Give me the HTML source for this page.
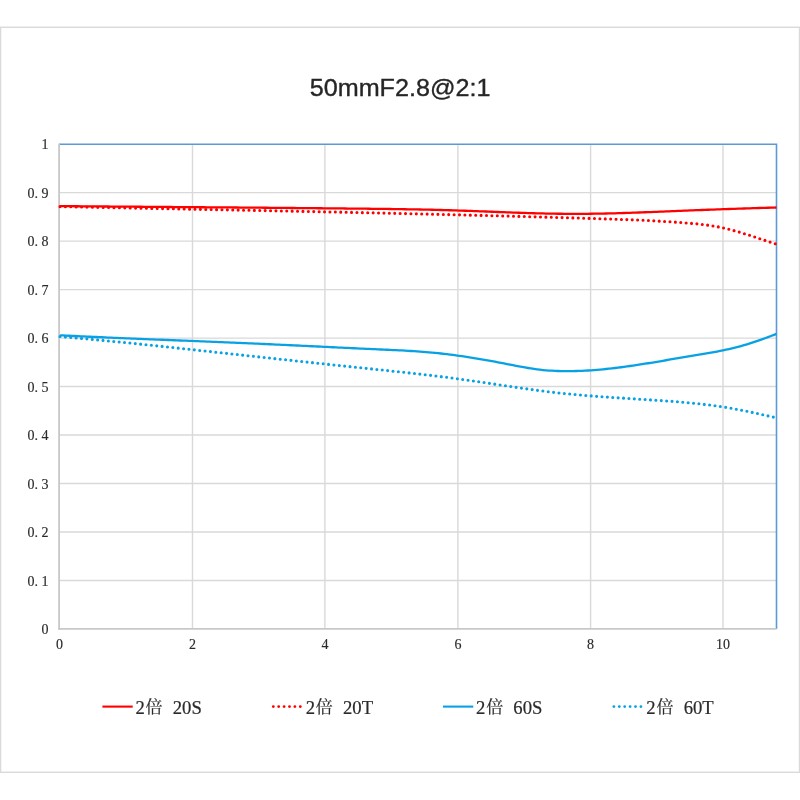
<!DOCTYPE html>
<html><head><meta charset="utf-8"><title>50mmF2.8@2:1</title>
<style>html,body{margin:0;padding:0;background:#fff;width:800px;height:800px;overflow:hidden}svg{display:block}</style>
</head><body>
<svg width="800" height="800" viewBox="0 0 800 800"><rect x="0.6" y="27.25" width="798.9" height="745.05" fill="none" stroke="#dadada" stroke-width="1.4"/>
<text x="309.70" y="96.3" textLength="180.80" lengthAdjust="spacingAndGlyphs" font-family="Liberation Sans, sans-serif" font-size="23.8" fill="#262626" stroke="#262626" stroke-width="0.35">50mmF2.8@2:1</text>
<line x1="59" y1="580.43" x2="776.5" y2="580.43" stroke="#d9d9d9" stroke-width="1.4"/>
<line x1="59" y1="531.96" x2="776.5" y2="531.96" stroke="#d9d9d9" stroke-width="1.4"/>
<line x1="59" y1="483.49" x2="776.5" y2="483.49" stroke="#d9d9d9" stroke-width="1.4"/>
<line x1="59" y1="435.02" x2="776.5" y2="435.02" stroke="#d9d9d9" stroke-width="1.4"/>
<line x1="59" y1="386.55" x2="776.5" y2="386.55" stroke="#d9d9d9" stroke-width="1.4"/>
<line x1="59" y1="338.08" x2="776.5" y2="338.08" stroke="#d9d9d9" stroke-width="1.4"/>
<line x1="59" y1="289.61" x2="776.5" y2="289.61" stroke="#d9d9d9" stroke-width="1.4"/>
<line x1="59" y1="241.14" x2="776.5" y2="241.14" stroke="#d9d9d9" stroke-width="1.4"/>
<line x1="59" y1="192.67" x2="776.5" y2="192.67" stroke="#d9d9d9" stroke-width="1.4"/>
<line x1="192.50" y1="144.20" x2="192.50" y2="628.90" stroke="#d9d9d9" stroke-width="1.4"/>
<line x1="324.90" y1="144.20" x2="324.90" y2="628.90" stroke="#d9d9d9" stroke-width="1.4"/>
<line x1="457.90" y1="144.20" x2="457.90" y2="628.90" stroke="#d9d9d9" stroke-width="1.4"/>
<line x1="590.60" y1="144.20" x2="590.60" y2="628.90" stroke="#d9d9d9" stroke-width="1.4"/>
<line x1="723.00" y1="144.20" x2="723.00" y2="628.90" stroke="#d9d9d9" stroke-width="1.4"/>
<polyline points="59,144.20 776.5,144.20 776.5,628.90" fill="none" stroke="#5b9bd5" stroke-width="1.6"/>
<line x1="59.1" y1="143.70" x2="59.1" y2="629.80" stroke="#c8c8c8" stroke-width="1.8"/>
<line x1="58.2" y1="628.90" x2="776.5" y2="628.90" stroke="#c8c8c8" stroke-width="1.8"/>
<path d="M60.00,206.10 L63.00,206.13 L66.00,206.16 L69.00,206.18 L72.00,206.21 L75.00,206.23 L78.00,206.26 L81.00,206.29 L84.00,206.31 L87.00,206.34 L90.00,206.36 L93.00,206.39 L96.00,206.41 L99.00,206.44 L102.00,206.46 L105.00,206.48 L108.00,206.51 L111.00,206.53 L114.00,206.56 L117.00,206.58 L120.00,206.61 L123.00,206.63 L126.00,206.65 L129.00,206.68 L132.00,206.70 L135.00,206.72 L138.00,206.75 L141.00,206.77 L144.00,206.79 L147.00,206.82 L150.00,206.84 L153.00,206.87 L156.00,206.89 L159.00,206.91 L162.00,206.93 L165.00,206.96 L168.00,206.98 L171.00,207.00 L174.00,207.03 L177.00,207.05 L180.00,207.07 L183.00,207.10 L186.00,207.12 L189.00,207.14 L192.00,207.17 L195.00,207.19 L198.00,207.21 L201.00,207.24 L204.00,207.26 L207.00,207.28 L210.00,207.31 L213.00,207.33 L216.00,207.36 L219.00,207.38 L222.00,207.40 L225.00,207.43 L228.00,207.45 L231.00,207.47 L234.00,207.50 L237.00,207.52 L240.00,207.55 L243.00,207.57 L246.00,207.60 L249.00,207.62 L252.00,207.65 L255.00,207.67 L258.00,207.70 L261.00,207.72 L264.00,207.75 L267.00,207.77 L270.00,207.80 L273.00,207.82 L276.00,207.85 L279.00,207.88 L282.00,207.90 L285.00,207.93 L288.00,207.96 L291.00,207.98 L294.00,208.01 L297.00,208.04 L300.00,208.06 L303.00,208.09 L306.00,208.12 L309.00,208.15 L312.00,208.18 L315.00,208.20 L318.00,208.23 L321.00,208.26 L324.00,208.29 L327.00,208.32 L330.00,208.35 L333.00,208.38 L336.00,208.41 L339.00,208.44 L342.00,208.47 L345.00,208.50 L348.00,208.53 L351.00,208.56 L354.00,208.59 L357.00,208.62 L360.00,208.65 L363.00,208.69 L366.00,208.72 L369.00,208.75 L372.00,208.79 L375.00,208.82 L378.00,208.86 L381.00,208.89 L384.00,208.93 L387.00,208.97 L390.00,209.01 L393.00,209.05 L396.00,209.09 L399.00,209.14 L402.00,209.19 L405.00,209.23 L408.00,209.28 L411.00,209.34 L414.00,209.39 L417.00,209.45 L420.00,209.51 L423.00,209.57 L426.00,209.63 L429.00,209.70 L432.00,209.77 L435.00,209.84 L438.00,209.91 L441.00,209.99 L444.00,210.07 L447.00,210.16 L450.00,210.25 L453.00,210.34 L456.00,210.43 L459.00,210.53 L462.00,210.63 L465.00,210.73 L468.00,210.84 L471.00,210.95 L474.00,211.06 L477.00,211.17 L480.00,211.29 L483.00,211.40 L486.00,211.52 L489.00,211.64 L492.00,211.75 L495.00,211.87 L498.00,211.99 L501.00,212.10 L504.00,212.21 L507.00,212.33 L510.00,212.44 L513.00,212.55 L516.00,212.65 L519.00,212.76 L522.00,212.86 L525.00,212.96 L528.00,213.05 L531.00,213.14 L534.00,213.23 L537.00,213.31 L540.00,213.39 L543.00,213.46 L546.00,213.53 L549.00,213.59 L552.00,213.64 L555.00,213.69 L558.00,213.74 L561.00,213.77 L564.00,213.80 L567.00,213.82 L570.00,213.84 L573.00,213.85 L576.00,213.85 L579.00,213.85 L582.00,213.83 L585.00,213.82 L588.00,213.79 L591.00,213.76 L594.00,213.72 L597.00,213.67 L600.00,213.62 L603.00,213.57 L606.00,213.50 L609.00,213.43 L612.00,213.36 L615.00,213.28 L618.00,213.19 L621.00,213.11 L624.00,213.01 L627.00,212.92 L630.00,212.82 L633.00,212.71 L636.00,212.61 L639.00,212.50 L642.00,212.39 L645.00,212.27 L648.00,212.16 L651.00,212.04 L654.00,211.92 L657.00,211.80 L660.00,211.68 L663.00,211.56 L666.00,211.44 L669.00,211.32 L672.00,211.19 L675.00,211.07 L678.00,210.95 L681.00,210.83 L684.00,210.70 L687.00,210.58 L690.00,210.46 L693.00,210.34 L696.00,210.22 L699.00,210.11 L702.00,209.99 L705.00,209.87 L708.00,209.76 L711.00,209.64 L714.00,209.53 L717.00,209.42 L720.00,209.31 L723.00,209.20 L726.00,209.09 L729.00,208.98 L732.00,208.88 L735.00,208.78 L738.00,208.67 L741.00,208.57 L744.00,208.48 L747.00,208.38 L750.00,208.28 L753.00,208.19 L756.00,208.10 L759.00,208.01 L762.00,207.92 L765.00,207.83 L768.00,207.75 L771.00,207.67 L774.00,207.59 L776.50,207.52" fill="none" stroke="#ff0000" stroke-width="2.3" stroke-linejoin="round"/>
<path d="M60.00,206.59 L63.00,206.65 L66.00,206.71 L69.00,206.77 L72.00,206.83 L75.00,206.89 L78.00,206.95 L81.00,207.01 L84.00,207.06 L87.00,207.12 L90.00,207.18 L93.00,207.24 L96.00,207.30 L99.00,207.36 L102.00,207.42 L105.00,207.48 L108.00,207.54 L111.00,207.60 L114.00,207.66 L117.00,207.71 L120.00,207.77 L123.00,207.83 L126.00,207.89 L129.00,207.95 L132.00,208.01 L135.00,208.07 L138.00,208.12 L141.00,208.18 L144.00,208.24 L147.00,208.30 L150.00,208.36 L153.00,208.42 L156.00,208.47 L159.00,208.53 L162.00,208.59 L165.00,208.65 L168.00,208.71 L171.00,208.77 L174.00,208.82 L177.00,208.88 L180.00,208.94 L183.00,209.00 L186.00,209.06 L189.00,209.12 L192.00,209.17 L195.00,209.23 L198.00,209.29 L201.00,209.35 L204.00,209.41 L207.00,209.47 L210.00,209.53 L213.00,209.58 L216.00,209.64 L219.00,209.70 L222.00,209.76 L225.00,209.82 L228.00,209.88 L231.00,209.94 L234.00,210.00 L237.00,210.06 L240.00,210.12 L243.00,210.17 L246.00,210.23 L249.00,210.29 L252.00,210.35 L255.00,210.41 L258.00,210.47 L261.00,210.53 L264.00,210.59 L267.00,210.65 L270.00,210.71 L273.00,210.77 L276.00,210.83 L279.00,210.89 L282.00,210.95 L285.00,211.02 L288.00,211.08 L291.00,211.14 L294.00,211.20 L297.00,211.26 L300.00,211.32 L303.00,211.38 L306.00,211.44 L309.00,211.51 L312.00,211.57 L315.00,211.63 L318.00,211.69 L321.00,211.76 L324.00,211.82 L327.00,211.88 L330.00,211.94 L333.00,212.01 L336.00,212.07 L339.00,212.13 L342.00,212.20 L345.00,212.26 L348.00,212.33 L351.00,212.39 L354.00,212.46 L357.00,212.52 L360.00,212.58 L363.00,212.65 L366.00,212.72 L369.00,212.78 L372.00,212.85 L375.00,212.91 L378.00,212.98 L381.00,213.05 L384.00,213.11 L387.00,213.18 L390.00,213.25 L393.00,213.31 L396.00,213.38 L399.00,213.45 L402.00,213.52 L405.00,213.59 L408.00,213.65 L411.00,213.72 L414.00,213.79 L417.00,213.86 L420.00,213.93 L423.00,214.00 L426.00,214.07 L429.00,214.14 L432.00,214.21 L435.00,214.28 L438.00,214.35 L441.00,214.43 L444.00,214.50 L447.00,214.57 L450.00,214.64 L453.00,214.71 L456.00,214.79 L459.00,214.86 L462.00,214.94 L465.00,215.01 L468.00,215.08 L471.00,215.16 L474.00,215.23 L477.00,215.31 L480.00,215.38 L483.00,215.46 L486.00,215.54 L489.00,215.61 L492.00,215.69 L495.00,215.77 L498.00,215.84 L501.00,215.92 L504.00,216.00 L507.00,216.08 L510.00,216.16 L513.00,216.24 L516.00,216.32 L519.00,216.40 L522.00,216.48 L525.00,216.56 L528.00,216.64 L531.00,216.72 L534.00,216.80 L537.00,216.89 L540.00,216.97 L543.00,217.05 L546.00,217.14 L549.00,217.22 L552.00,217.30 L555.00,217.39 L558.00,217.47 L561.00,217.56 L564.00,217.65 L567.00,217.73 L570.00,217.82 L573.00,217.91 L576.00,217.99 L579.00,218.08 L582.00,218.17 L585.00,218.26 L588.00,218.35 L591.00,218.44 L594.00,218.53 L597.00,218.62 L600.00,218.71 L603.00,218.81 L606.00,218.90 L609.00,219.00 L612.00,219.10 L615.00,219.20 L618.00,219.30 L621.00,219.41 L624.00,219.52 L627.00,219.63 L630.00,219.75 L633.00,219.87 L636.00,219.99 L639.00,220.12 L642.00,220.26 L645.00,220.40 L648.00,220.54 L651.00,220.69 L654.00,220.84 L657.00,221.01 L660.00,221.17 L663.00,221.35 L666.00,221.53 L669.00,221.71 L672.00,221.91 L675.00,222.11 L678.00,222.32 L681.00,222.54 L684.00,222.77 L687.00,223.00 L690.00,223.25 L693.00,223.51 L696.00,223.78 L699.00,224.09 L702.00,224.42 L705.00,224.78 L708.00,225.18 L711.00,225.62 L714.00,226.11 L717.00,226.64 L720.00,227.23 L723.00,227.87 L726.00,228.56 L729.00,229.30 L732.00,230.08 L735.00,230.90 L738.00,231.75 L741.00,232.63 L744.00,233.55 L747.00,234.49 L750.00,235.45 L753.00,236.42 L756.00,237.42 L759.00,238.41 L762.00,239.41 L765.00,240.41 L768.00,241.40 L771.00,242.38 L774.00,243.34 L776.50,244.12" fill="none" stroke="#ff0000" stroke-width="3.1" stroke-linecap="round" stroke-dasharray="0 5.4"/>
<path d="M60.00,335.28 L63.00,335.43 L66.00,335.58 L69.00,335.73 L72.00,335.88 L75.00,336.02 L78.00,336.17 L81.00,336.31 L84.00,336.45 L87.00,336.59 L90.00,336.73 L93.00,336.86 L96.00,337.00 L99.00,337.13 L102.00,337.27 L105.00,337.40 L108.00,337.53 L111.00,337.66 L114.00,337.79 L117.00,337.92 L120.00,338.05 L123.00,338.17 L126.00,338.30 L129.00,338.43 L132.00,338.55 L135.00,338.67 L138.00,338.80 L141.00,338.92 L144.00,339.04 L147.00,339.16 L150.00,339.29 L153.00,339.41 L156.00,339.53 L159.00,339.65 L162.00,339.77 L165.00,339.89 L168.00,340.01 L171.00,340.13 L174.00,340.25 L177.00,340.37 L180.00,340.48 L183.00,340.60 L186.00,340.72 L189.00,340.84 L192.00,340.96 L195.00,341.08 L198.00,341.20 L201.00,341.32 L204.00,341.44 L207.00,341.56 L210.00,341.68 L213.00,341.81 L216.00,341.93 L219.00,342.05 L222.00,342.17 L225.00,342.30 L228.00,342.42 L231.00,342.55 L234.00,342.67 L237.00,342.80 L240.00,342.93 L243.00,343.06 L246.00,343.18 L249.00,343.31 L252.00,343.45 L255.00,343.58 L258.00,343.71 L261.00,343.85 L264.00,343.98 L267.00,344.12 L270.00,344.25 L273.00,344.39 L276.00,344.53 L279.00,344.67 L282.00,344.81 L285.00,344.95 L288.00,345.09 L291.00,345.23 L294.00,345.38 L297.00,345.52 L300.00,345.66 L303.00,345.80 L306.00,345.95 L309.00,346.09 L312.00,346.24 L315.00,346.38 L318.00,346.52 L321.00,346.67 L324.00,346.81 L327.00,346.96 L330.00,347.10 L333.00,347.25 L336.00,347.39 L339.00,347.53 L342.00,347.68 L345.00,347.82 L348.00,347.96 L351.00,348.10 L354.00,348.24 L357.00,348.39 L360.00,348.53 L363.00,348.67 L366.00,348.80 L369.00,348.94 L372.00,349.08 L375.00,349.22 L378.00,349.35 L381.00,349.49 L384.00,349.62 L387.00,349.75 L390.00,349.89 L393.00,350.03 L396.00,350.17 L399.00,350.32 L402.00,350.47 L405.00,350.63 L408.00,350.80 L411.00,350.98 L414.00,351.17 L417.00,351.37 L420.00,351.58 L423.00,351.81 L426.00,352.05 L429.00,352.31 L432.00,352.58 L435.00,352.87 L438.00,353.18 L441.00,353.51 L444.00,353.85 L447.00,354.20 L450.00,354.58 L453.00,354.96 L456.00,355.36 L459.00,355.78 L462.00,356.21 L465.00,356.65 L468.00,357.11 L471.00,357.57 L474.00,358.06 L477.00,358.55 L480.00,359.05 L483.00,359.57 L486.00,360.10 L489.00,360.63 L492.00,361.18 L495.00,361.74 L498.00,362.31 L501.00,362.88 L504.00,363.47 L507.00,364.06 L510.00,364.65 L513.00,365.24 L516.00,365.82 L519.00,366.40 L522.00,366.95 L525.00,367.49 L528.00,368.00 L531.00,368.48 L534.00,368.93 L537.00,369.34 L540.00,369.70 L543.00,370.02 L546.00,370.30 L549.00,370.53 L552.00,370.72 L555.00,370.88 L558.00,370.99 L561.00,371.08 L564.00,371.12 L567.00,371.14 L570.00,371.13 L573.00,371.09 L576.00,371.02 L579.00,370.93 L582.00,370.81 L585.00,370.66 L588.00,370.49 L591.00,370.30 L594.00,370.08 L597.00,369.84 L600.00,369.58 L603.00,369.30 L606.00,369.00 L609.00,368.69 L612.00,368.35 L615.00,368.00 L618.00,367.63 L621.00,367.25 L624.00,366.85 L627.00,366.44 L630.00,366.01 L633.00,365.58 L636.00,365.13 L639.00,364.68 L642.00,364.21 L645.00,363.73 L648.00,363.25 L651.00,362.76 L654.00,362.27 L657.00,361.77 L660.00,361.26 L663.00,360.76 L666.00,360.25 L669.00,359.73 L672.00,359.22 L675.00,358.71 L678.00,358.20 L681.00,357.69 L684.00,357.18 L687.00,356.67 L690.00,356.17 L693.00,355.68 L696.00,355.18 L699.00,354.69 L702.00,354.19 L705.00,353.68 L708.00,353.17 L711.00,352.64 L714.00,352.10 L717.00,351.54 L720.00,350.96 L723.00,350.35 L726.00,349.72 L729.00,349.06 L732.00,348.36 L735.00,347.63 L738.00,346.86 L741.00,346.06 L744.00,345.20 L747.00,344.31 L750.00,343.39 L753.00,342.42 L756.00,341.43 L759.00,340.40 L762.00,339.34 L765.00,338.27 L768.00,337.16 L771.00,336.04 L774.00,334.90 L776.50,333.93" fill="none" stroke="#08a2e4" stroke-width="2.3" stroke-linejoin="round"/>
<path d="M60.00,336.45 L63.00,336.71 L66.00,336.97 L69.00,337.24 L72.00,337.51 L75.00,337.78 L78.00,338.05 L81.00,338.33 L84.00,338.60 L87.00,338.88 L90.00,339.16 L93.00,339.45 L96.00,339.73 L99.00,340.02 L102.00,340.31 L105.00,340.60 L108.00,340.89 L111.00,341.19 L114.00,341.48 L117.00,341.78 L120.00,342.08 L123.00,342.38 L126.00,342.68 L129.00,342.98 L132.00,343.29 L135.00,343.59 L138.00,343.90 L141.00,344.21 L144.00,344.52 L147.00,344.83 L150.00,345.14 L153.00,345.46 L156.00,345.77 L159.00,346.09 L162.00,346.41 L165.00,346.72 L168.00,347.04 L171.00,347.36 L174.00,347.68 L177.00,348.00 L180.00,348.32 L183.00,348.65 L186.00,348.97 L189.00,349.29 L192.00,349.62 L195.00,349.94 L198.00,350.27 L201.00,350.59 L204.00,350.92 L207.00,351.24 L210.00,351.57 L213.00,351.90 L216.00,352.22 L219.00,352.55 L222.00,352.88 L225.00,353.21 L228.00,353.53 L231.00,353.86 L234.00,354.19 L237.00,354.52 L240.00,354.84 L243.00,355.17 L246.00,355.50 L249.00,355.83 L252.00,356.15 L255.00,356.48 L258.00,356.80 L261.00,357.13 L264.00,357.45 L267.00,357.78 L270.00,358.10 L273.00,358.43 L276.00,358.75 L279.00,359.07 L282.00,359.40 L285.00,359.72 L288.00,360.04 L291.00,360.37 L294.00,360.69 L297.00,361.01 L300.00,361.33 L303.00,361.65 L306.00,361.97 L309.00,362.29 L312.00,362.61 L315.00,362.93 L318.00,363.25 L321.00,363.57 L324.00,363.89 L327.00,364.21 L330.00,364.53 L333.00,364.85 L336.00,365.16 L339.00,365.48 L342.00,365.80 L345.00,366.12 L348.00,366.43 L351.00,366.75 L354.00,367.07 L357.00,367.39 L360.00,367.70 L363.00,368.02 L366.00,368.33 L369.00,368.65 L372.00,368.97 L375.00,369.28 L378.00,369.60 L381.00,369.91 L384.00,370.23 L387.00,370.54 L390.00,370.86 L393.00,371.18 L396.00,371.50 L399.00,371.81 L402.00,372.14 L405.00,372.46 L408.00,372.78 L411.00,373.11 L414.00,373.44 L417.00,373.78 L420.00,374.11 L423.00,374.45 L426.00,374.80 L429.00,375.15 L432.00,375.50 L435.00,375.86 L438.00,376.22 L441.00,376.59 L444.00,376.97 L447.00,377.35 L450.00,377.73 L453.00,378.13 L456.00,378.53 L459.00,378.93 L462.00,379.35 L465.00,379.77 L468.00,380.20 L471.00,380.63 L474.00,381.06 L477.00,381.50 L480.00,381.94 L483.00,382.39 L486.00,382.84 L489.00,383.29 L492.00,383.74 L495.00,384.19 L498.00,384.64 L501.00,385.10 L504.00,385.55 L507.00,386.00 L510.00,386.44 L513.00,386.89 L516.00,387.33 L519.00,387.76 L522.00,388.20 L525.00,388.62 L528.00,389.04 L531.00,389.46 L534.00,389.87 L537.00,390.27 L540.00,390.66 L543.00,391.05 L546.00,391.43 L549.00,391.79 L552.00,392.15 L555.00,392.50 L558.00,392.83 L561.00,393.16 L564.00,393.47 L567.00,393.77 L570.00,394.07 L573.00,394.35 L576.00,394.63 L579.00,394.90 L582.00,395.16 L585.00,395.41 L588.00,395.66 L591.00,395.90 L594.00,396.13 L597.00,396.36 L600.00,396.58 L603.00,396.79 L606.00,397.01 L609.00,397.21 L612.00,397.42 L615.00,397.62 L618.00,397.82 L621.00,398.01 L624.00,398.20 L627.00,398.40 L630.00,398.59 L633.00,398.77 L636.00,398.96 L639.00,399.15 L642.00,399.34 L645.00,399.53 L648.00,399.72 L651.00,399.91 L654.00,400.11 L657.00,400.31 L660.00,400.51 L663.00,400.71 L666.00,400.92 L669.00,401.13 L672.00,401.35 L675.00,401.58 L678.00,401.82 L681.00,402.06 L684.00,402.32 L687.00,402.59 L690.00,402.86 L693.00,403.15 L696.00,403.46 L699.00,403.77 L702.00,404.11 L705.00,404.46 L708.00,404.82 L711.00,405.20 L714.00,405.60 L717.00,406.02 L720.00,406.46 L723.00,406.92 L726.00,407.41 L729.00,407.91 L732.00,408.44 L735.00,408.98 L738.00,409.54 L741.00,410.12 L744.00,410.72 L747.00,411.33 L750.00,411.95 L753.00,412.59 L756.00,413.23 L759.00,413.89 L762.00,414.55 L765.00,415.23 L768.00,415.90 L771.00,416.59 L774.00,417.27 L776.50,417.85" fill="none" stroke="#08a2e4" stroke-width="3.1" stroke-linecap="round" stroke-dasharray="0 5.4"/>
<text y="634.05" font-family="Liberation Serif, Noto Serif CJK SC, serif" font-size="14" fill="#2a2a2a" stroke="#2a2a2a" stroke-width="0.15" text-anchor="middle"><tspan x="45.00">0</tspan></text>
<text y="585.58" font-family="Liberation Serif, Noto Serif CJK SC, serif" font-size="14" fill="#2a2a2a" stroke="#2a2a2a" stroke-width="0.15" text-anchor="middle"><tspan x="31.00">0</tspan><tspan x="36.20">.</tspan><tspan x="45.00">1</tspan></text>
<text y="537.11" font-family="Liberation Serif, Noto Serif CJK SC, serif" font-size="14" fill="#2a2a2a" stroke="#2a2a2a" stroke-width="0.15" text-anchor="middle"><tspan x="31.00">0</tspan><tspan x="36.20">.</tspan><tspan x="45.00">2</tspan></text>
<text y="488.64" font-family="Liberation Serif, Noto Serif CJK SC, serif" font-size="14" fill="#2a2a2a" stroke="#2a2a2a" stroke-width="0.15" text-anchor="middle"><tspan x="31.00">0</tspan><tspan x="36.20">.</tspan><tspan x="45.00">3</tspan></text>
<text y="440.17" font-family="Liberation Serif, Noto Serif CJK SC, serif" font-size="14" fill="#2a2a2a" stroke="#2a2a2a" stroke-width="0.15" text-anchor="middle"><tspan x="31.00">0</tspan><tspan x="36.20">.</tspan><tspan x="45.00">4</tspan></text>
<text y="391.70" font-family="Liberation Serif, Noto Serif CJK SC, serif" font-size="14" fill="#2a2a2a" stroke="#2a2a2a" stroke-width="0.15" text-anchor="middle"><tspan x="31.00">0</tspan><tspan x="36.20">.</tspan><tspan x="45.00">5</tspan></text>
<text y="343.23" font-family="Liberation Serif, Noto Serif CJK SC, serif" font-size="14" fill="#2a2a2a" stroke="#2a2a2a" stroke-width="0.15" text-anchor="middle"><tspan x="31.00">0</tspan><tspan x="36.20">.</tspan><tspan x="45.00">6</tspan></text>
<text y="294.76" font-family="Liberation Serif, Noto Serif CJK SC, serif" font-size="14" fill="#2a2a2a" stroke="#2a2a2a" stroke-width="0.15" text-anchor="middle"><tspan x="31.00">0</tspan><tspan x="36.20">.</tspan><tspan x="45.00">7</tspan></text>
<text y="246.29" font-family="Liberation Serif, Noto Serif CJK SC, serif" font-size="14" fill="#2a2a2a" stroke="#2a2a2a" stroke-width="0.15" text-anchor="middle"><tspan x="31.00">0</tspan><tspan x="36.20">.</tspan><tspan x="45.00">8</tspan></text>
<text y="197.82" font-family="Liberation Serif, Noto Serif CJK SC, serif" font-size="14" fill="#2a2a2a" stroke="#2a2a2a" stroke-width="0.15" text-anchor="middle"><tspan x="31.00">0</tspan><tspan x="36.20">.</tspan><tspan x="45.00">9</tspan></text>
<text y="149.35" font-family="Liberation Serif, Noto Serif CJK SC, serif" font-size="14" fill="#2a2a2a" stroke="#2a2a2a" stroke-width="0.15" text-anchor="middle"><tspan x="45.00">1</tspan></text>
<text y="649.00" font-family="Liberation Serif, Noto Serif CJK SC, serif" font-size="14" fill="#2a2a2a" stroke="#2a2a2a" stroke-width="0.15" text-anchor="middle"><tspan x="59.50">0</tspan></text>
<text y="649.00" font-family="Liberation Serif, Noto Serif CJK SC, serif" font-size="14" fill="#2a2a2a" stroke="#2a2a2a" stroke-width="0.15" text-anchor="middle"><tspan x="192.50">2</tspan></text>
<text y="649.00" font-family="Liberation Serif, Noto Serif CJK SC, serif" font-size="14" fill="#2a2a2a" stroke="#2a2a2a" stroke-width="0.15" text-anchor="middle"><tspan x="324.90">4</tspan></text>
<text y="649.00" font-family="Liberation Serif, Noto Serif CJK SC, serif" font-size="14" fill="#2a2a2a" stroke="#2a2a2a" stroke-width="0.15" text-anchor="middle"><tspan x="457.90">6</tspan></text>
<text y="649.00" font-family="Liberation Serif, Noto Serif CJK SC, serif" font-size="14" fill="#2a2a2a" stroke="#2a2a2a" stroke-width="0.15" text-anchor="middle"><tspan x="590.60">8</tspan></text>
<text y="649.00" font-family="Liberation Serif, Noto Serif CJK SC, serif" font-size="14" fill="#2a2a2a" stroke="#2a2a2a" stroke-width="0.15" text-anchor="middle"><tspan x="719.50">1</tspan><tspan x="726.50">0</tspan></text>
<line x1="102.4" y1="706.6" x2="132.7" y2="706.6" stroke="#ff0000" stroke-width="2.1"/><text y="713.60" font-family="Liberation Serif, Noto Serif CJK SC, serif" font-size="18.67" fill="#2a2a2a" stroke="#2a2a2a" stroke-width="0.20"><tspan x="135.40">2</tspan><tspan x="145.57" dy="-0.70" font-family="Noto Serif CJK SC, serif" font-size="17.00">倍</tspan> <tspan x="172.74" dy="0.70">20S</tspan></text>
<line x1="273.3" y1="706.6" x2="300.9" y2="706.6" stroke="#ff0000" stroke-width="2.9" stroke-linecap="round" stroke-dasharray="0 5.4"/><text y="713.60" font-family="Liberation Serif, Noto Serif CJK SC, serif" font-size="18.67" fill="#2a2a2a" stroke="#2a2a2a" stroke-width="0.20"><tspan x="305.70">2</tspan><tspan x="315.87" dy="-0.70" font-family="Noto Serif CJK SC, serif" font-size="17.00">倍</tspan> <tspan x="343.04" dy="0.70">20T</tspan></text>
<line x1="443.0" y1="706.6" x2="473.3" y2="706.6" stroke="#08a2e4" stroke-width="2.1"/><text y="713.60" font-family="Liberation Serif, Noto Serif CJK SC, serif" font-size="18.67" fill="#2a2a2a" stroke="#2a2a2a" stroke-width="0.20"><tspan x="476.00">2</tspan><tspan x="486.17" dy="-0.70" font-family="Noto Serif CJK SC, serif" font-size="17.00">倍</tspan> <tspan x="513.34" dy="0.70">60S</tspan></text>
<line x1="613.9" y1="706.6" x2="641.5" y2="706.6" stroke="#08a2e4" stroke-width="2.9" stroke-linecap="round" stroke-dasharray="0 5.4"/><text y="713.60" font-family="Liberation Serif, Noto Serif CJK SC, serif" font-size="18.67" fill="#2a2a2a" stroke="#2a2a2a" stroke-width="0.20"><tspan x="646.30">2</tspan><tspan x="656.47" dy="-0.70" font-family="Noto Serif CJK SC, serif" font-size="17.00">倍</tspan> <tspan x="683.64" dy="0.70">60T</tspan></text></svg>
</body></html>
